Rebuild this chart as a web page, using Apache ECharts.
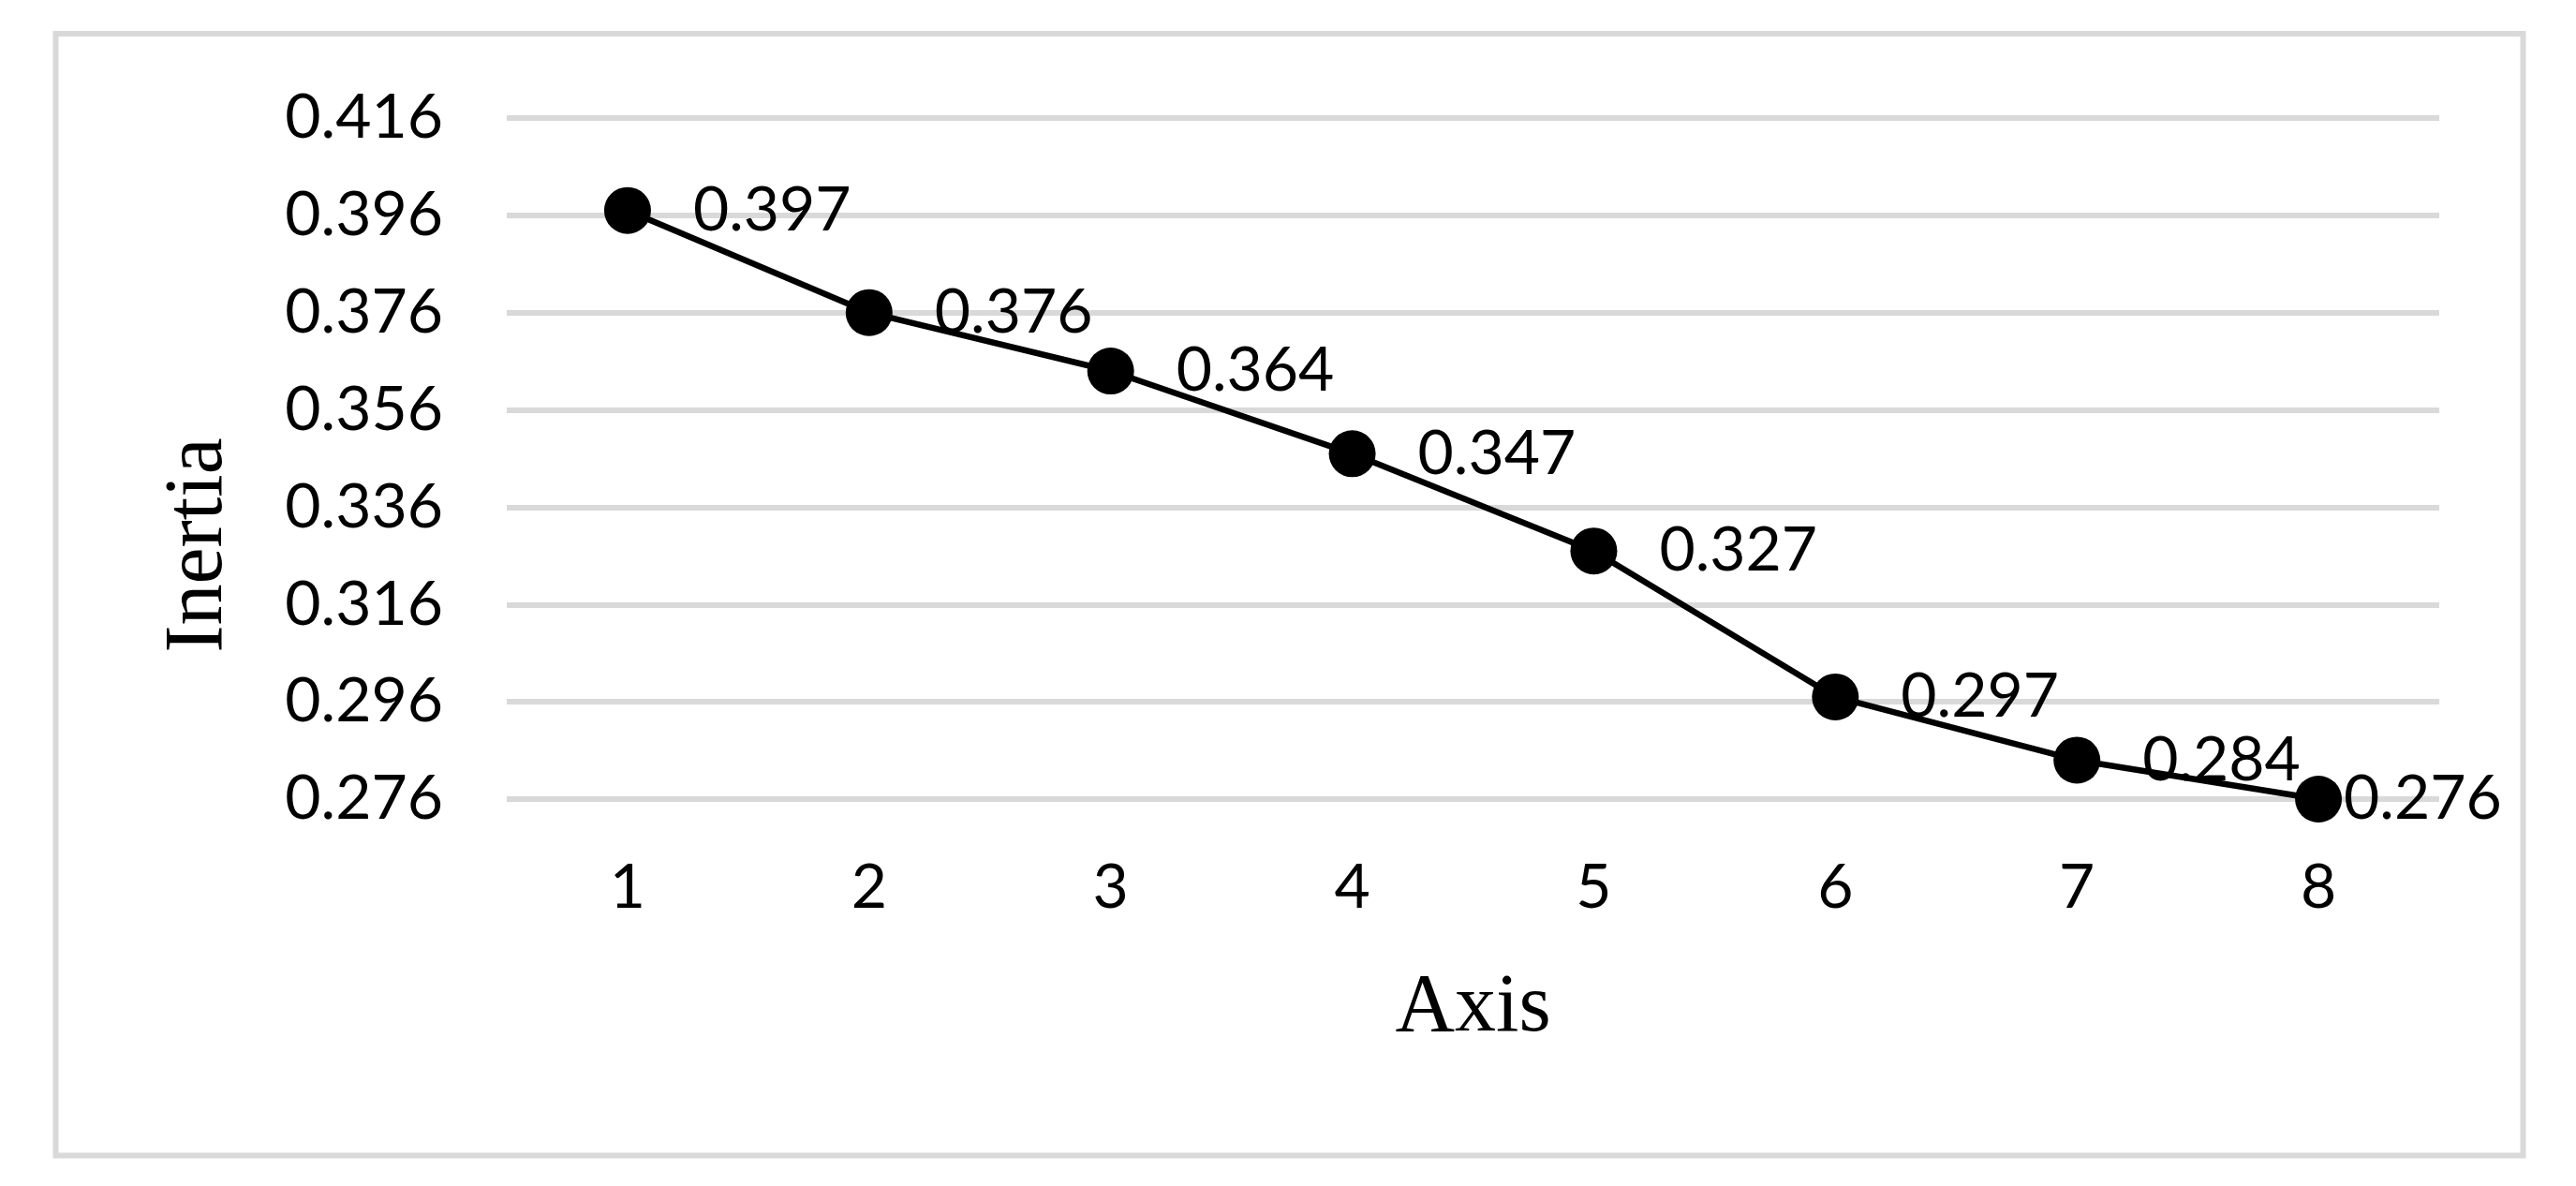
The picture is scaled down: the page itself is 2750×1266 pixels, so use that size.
<!DOCTYPE html>
<html>
<head>
<meta charset="utf-8">
<script src="https://cdn.jsdelivr.net/npm/echarts@6/dist/echarts.min.js"></script>
<style>
  html, body { margin: 0; padding: 0; background: #fff; }
  #chart { width: 2750px; height: 1266px; }
</style>
</head>
<body>
<div id="chart"></div>
<script>
const categories = ['1', '2', '3', '4', '5', '6', '7', '8'];
const inertia = [0.397, 0.376, 0.364, 0.347, 0.327, 0.297, 0.284, 0.276];
const yMin = 0.276;
const yMax = 0.416;
const yStep = 0.02;
const xTitle = 'Axis';
const yTitle = 'Inertia';

const chart = echarts.init(document.getElementById('chart'), null, { renderer: 'canvas' });

const seriesData = inertia.map(function (v, i) {
  if (i === inertia.length - 1) {
    return { value: v, label: { distance: 2 } };
  }
  return v;
});

chart.setOption({
  animation: false,
  backgroundColor: '#ffffff',
  grid: {
    left: 541, right: 146, top: 126, bottom: 413,
    containLabel: false,
    outerBoundsMode: 'none'
  },
  xAxis: {
    type: 'category',
    data: categories,
    boundaryGap: true,
    axisLine: { show: false },
    axisTick: { show: false },
    axisLabel: {
      margin: 62,
      color: '#000',
      fontFamily: 'Lato',
      fontSize: 66
    },
    name: xTitle,
    nameLocation: 'middle',
    nameGap: 180,
    nameTextStyle: {
      fontFamily: '"Liberation Serif"',
      fontSize: 88,
      color: '#000'
    },
    splitLine: { show: false }
  },
  yAxis: {
    type: 'value',
    min: yMin,
    max: yMax,
    interval: yStep,
    axisLine: { show: false },
    axisTick: { show: false },
    axisLabel: {
      margin: 68,
      color: '#000',
      fontFamily: 'Lato',
      fontSize: 66,
      formatter: function (v) { return v.toFixed(3); }
    },
    splitLine: {
      show: true,
      lineStyle: { color: '#d9d9d9', width: 6 }
    }
  },
  graphic: [
    {
      type: 'rect',
      shape: { x: 59.5, y: 36, width: 2634, height: 1197.5 },
      style: { fill: 'none', stroke: '#d9d9d9', lineWidth: 6 },
      silent: true,
      z: -1
    },
    {
      type: 'text',
      x: 213,
      y: 582,
      rotation: Math.PI / 2,
      style: {
        text: yTitle,
        font: '88px "Liberation Serif"',
        fill: '#000',
        align: 'center',
        verticalAlign: 'middle'
      }
    }
  ],
  series: [{
    type: 'line',
    data: seriesData,
    symbol: 'circle',
    symbolSize: 50,
    lineStyle: { color: '#000', width: 6.5 },
    itemStyle: { color: '#000' },
    label: {
      show: true,
      position: 'right',
      distance: 45,
      color: '#000',
      fontFamily: 'Lato',
      fontSize: 66,
      formatter: function (p) { return p.value.toFixed(3); }
    },
    z: 3
  }]
});
</script>
</body>
</html>
